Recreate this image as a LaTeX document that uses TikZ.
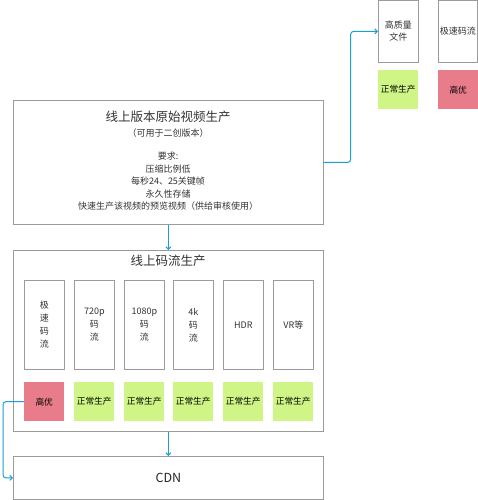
\documentclass[tikz,border=0pt]{standalone}
\usepackage{fontspec}
\setmainfont{Noto Sans CJK SC}
\usetikzlibrary{arrows.meta}
\definecolor{boxgray}{RGB}{155,155,155}
\definecolor{okgreen}{RGB}{206,245,133}
\definecolor{hipink}{RGB}{232,124,139}
\definecolor{linkblue}{RGB}{27,158,210}
\begin{document}
\begin{tikzpicture}[x=1pt,y=-1pt,
  box/.style={draw=boxgray,line width=0.7pt,fill=white,inner sep=0pt,anchor=north west},
  tag/.style={inner sep=0pt,anchor=north west,minimum width=40pt,minimum height=39pt,font=\fontsize{8.7}{10}\selectfont},
  green/.style={tag,fill=okgreen},
  pink/.style={tag,fill=hipink},
  txt/.style={inner sep=0pt,align=center,font=\fontsize{9}{12.5}\selectfont,text=black!80},
  link/.style={draw=linkblue,line width=1pt,rounded corners=3pt,-{Straight Barb[length=2.5pt,width=5pt]}}
]
\useasboundingbox (0,0) rectangle (478,500);

% top right
\node[box,minimum width=40pt,minimum height=62pt,align=center,font=\fontsize{9}{12}\selectfont,text=black!80] (hq) at (378,0) {高质量\\文件};
\node[box,minimum width=39pt,minimum height=62pt,font=\fontsize{9}{12}\selectfont,text=black!80] (js) at (438,0) {极速码流};
\node[green] (hqg) at (378,70) {正常生产};
\node[pink] (jsp) at (438,70) {高优};

% main box
\node[box,minimum width=310pt,minimum height=124pt] (main) at (13,100) {};
\node[txt,font=\fontsize{12.5}{14}\selectfont] (mtitle) at (168,117) {线上版本原始视频生产};
\node[txt] (msub) at (168,133) {（可用于二创版本）};
\node[txt,anchor=north] (mreq) at (168,152) {要求:\\压缩比例低\\每秒24、25关键帧\\永久性存储\\快速生产该视频的预览视频（供给审核使用）};

% stream box
\node[box,minimum width=310pt,minimum height=181pt] (stream) at (13,250) {};
\node[txt,font=\fontsize{12.5}{14}\selectfont] (stitle) at (168,261) {线上码流生产};

\foreach \i/\x/\t in {1/24/{极\\速\\码\\流},2/74/{720p\\码\\流},3/124/{1080p\\码\\流},4/173/{4k\\码\\流},5/223/{HDR},6/273/{VR等}}{
  \node[box,minimum width=40pt,minimum height=89pt,align=center,font=\fontsize{9}{13}\selectfont,text=black!80] (s\i) at (\x,280) {\t};
}
\node[pink] (c1) at (24,382) {高优};
\foreach \i/\x in {2/74,3/124,4/173,5/223,6/273}{
  \node[green] (c\i) at (\x,382) {正常生产};
}

% CDN
\node[box,minimum width=310pt,minimum height=43pt,font=\fontsize{12.5}{14}\selectfont,text=black!85] (cdn) at (13,456) {CDN};

% connectors
\draw[link] (main.east) -- ++(27,0) |- (hq.west);
\draw[link] (main.south) -- (stream.north);
\draw[link] (stream.south) -- (cdn.north);
\draw[link] (c1.west) -- ++(-21,0) |- (cdn.west);
\end{tikzpicture}
\end{document}
